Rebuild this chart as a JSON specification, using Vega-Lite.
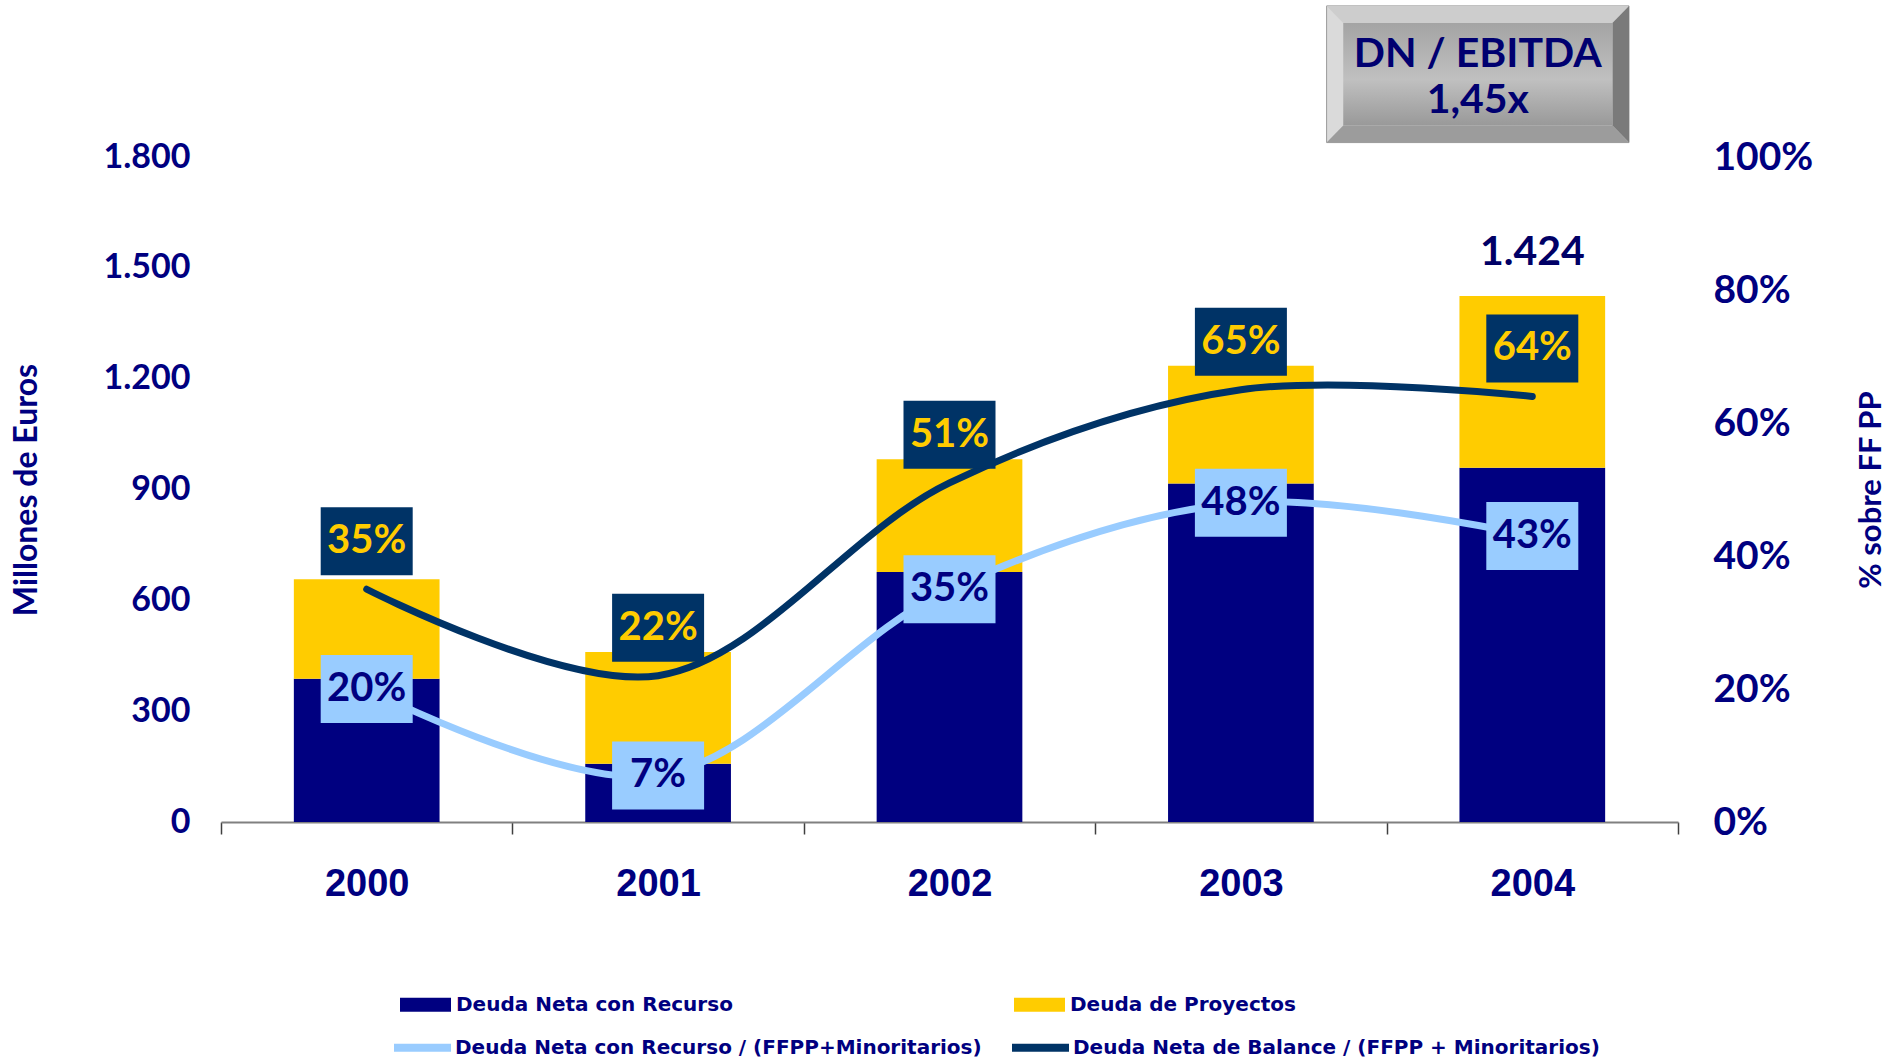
{
  "$schema": "https://vega.github.io/schema/vega-lite/v6.json",
  "width": 1457,
  "height": 665,
  "autosize": {"type": "none"},
  "padding": {"left": 221, "top": 157, "right": 223, "bottom": 242},
  "background": "white",
  "config": {
    "view": {"stroke": null},
    "locale": {"number": {"decimal": ",", "thousands": ".", "grouping": [3], "currency": ["", " €"]}}
  },
  "datasets": {
    "barras": [
      {"year": "2000", "serie": "Deuda Neta con Recurso", "valor": 388},
      {"year": "2001", "serie": "Deuda Neta con Recurso", "valor": 158},
      {"year": "2002", "serie": "Deuda Neta con Recurso", "valor": 677},
      {"year": "2003", "serie": "Deuda Neta con Recurso", "valor": 916},
      {"year": "2004", "serie": "Deuda Neta con Recurso", "valor": 959},
      {"year": "2000", "serie": "Deuda de Proyectos", "valor": 269},
      {"year": "2001", "serie": "Deuda de Proyectos", "valor": 302},
      {"year": "2002", "serie": "Deuda de Proyectos", "valor": 305},
      {"year": "2003", "serie": "Deuda de Proyectos", "valor": 319},
      {"year": "2004", "serie": "Deuda de Proyectos", "valor": 465}
    ],
    "ratios": [
      {"year": "2000", "serie": "Deuda Neta con Recurso / (FFPP+Minoritarios)", "pct": 0.20},
      {"year": "2001", "serie": "Deuda Neta con Recurso / (FFPP+Minoritarios)", "pct": 0.07},
      {"year": "2002", "serie": "Deuda Neta con Recurso / (FFPP+Minoritarios)", "pct": 0.35},
      {"year": "2003", "serie": "Deuda Neta con Recurso / (FFPP+Minoritarios)", "pct": 0.48},
      {"year": "2004", "serie": "Deuda Neta con Recurso / (FFPP+Minoritarios)", "pct": 0.43},
      {"year": "2000", "serie": "Deuda Neta de Balance / (FFPP + Minoritarios)", "pct": 0.35},
      {"year": "2001", "serie": "Deuda Neta de Balance / (FFPP + Minoritarios)", "pct": 0.22},
      {"year": "2002", "serie": "Deuda Neta de Balance / (FFPP + Minoritarios)", "pct": 0.51},
      {"year": "2003", "serie": "Deuda Neta de Balance / (FFPP + Minoritarios)", "pct": 0.65},
      {"year": "2004", "serie": "Deuda Neta de Balance / (FFPP + Minoritarios)", "pct": 0.64}
    ],
    "anotacion": [
      {"texto": "DN / EBITDA 1,45x"}
    ]
  },
  "layer": [
    {
      "data": {"name": "barras"},
      "mark": {"type": "bar", "width": {"band": 0.5}},
      "encoding": {
        "x": {
          "field": "year", "type": "ordinal",
          "scale": {"domain": ["2000", "2001", "2002", "2003", "2004"], "paddingInner": 0, "paddingOuter": 0},
          "axis": {
            "title": null, "labelAngle": 0, "tickBand": "extent", "tickSize": 12,
            "tickColor": "#404040", "tickWidth": 1.5, "domainColor": "#808080", "domainWidth": 2,
            "labelFont": "Liberation Sans", "labelFontWeight": "bold", "labelFontSize": 38,
            "labelColor": "#000080", "labelPadding": 31
          }
        },
        "y": {
          "field": "valor", "type": "quantitative", "stack": "zero",
          "scale": {"domain": [0, 1800], "nice": false},
          "axis": {
            "orient": "left", "values": [0, 300, 600, 900, 1200, 1500, 1800], "format": ",.0f",
            "domain": false, "ticks": false, "tickSize": 0, "grid": false,
            "labelFont": "Lato", "labelFontWeight": "bold", "labelFontSize": 34,
            "labelColor": "#000080", "labelPadding": 31,
            "title": "Millones de Euros", "titleFont": "Lato", "titleFontWeight": "bold",
            "titleFontSize": 32, "titleColor": "#000080", "titlePadding": 60
          }
        },
        "order": {"field": "serie", "sort": "ascending"},
        "color": {
          "field": "serie", "type": "nominal",
          "scale": {"domain": ["Deuda Neta con Recurso", "Deuda de Proyectos"], "range": ["#000080", "#FFCC00"]},
          "legend": {
            "title": null, "orient": "none", "legendX": 179, "legendY": 822,
            "direction": "horizontal", "columns": 2, "columnPadding": 281, "labelLimit": 0,
            "symbolType": "M-1,-0.275L1,-0.275L1,0.275L-1,0.275Z", "symbolSize": 2601,
            "symbolStrokeWidth": 0, "labelFont": "DejaVu Sans", "labelFontWeight": "bold",
            "labelFontSize": 20, "labelColor": "#000080", "labelOffset": 5, "padding": 0
          }
        }
      }
    },
    {
      "data": {"name": "barras"},
      "transform": [
        {"aggregate": [{"op": "sum", "field": "valor", "as": "total"}], "groupby": ["year"]},
        {"filter": {"field": "year", "equal": "2004"}}
      ],
      "mark": {"type": "text", "font": "Lato", "fontWeight": "bold", "fontSize": 41, "color": "#000066", "baseline": "alphabetic", "dy": -31},
      "encoding": {
        "x": {"field": "year", "type": "ordinal", "scale": {"domain": ["2000", "2001", "2002", "2003", "2004"]}, "axis": null},
        "y": {"field": "total", "type": "quantitative", "scale": {"domain": [0, 1800], "nice": false}, "axis": null},
        "text": {"field": "total", "type": "quantitative", "format": ",.0f"}
      }
    },
    {
      "data": {"name": "ratios"},
      "mark": {"type": "line", "interpolate": "catmull-rom", "strokeWidth": 7, "strokeCap": "round"},
      "encoding": {
        "x": {"field": "year", "type": "ordinal", "scale": {"domain": ["2000", "2001", "2002", "2003", "2004"]}, "axis": null},
        "y": {
          "field": "pct", "type": "quantitative",
          "scale": {"domain": [0, 1], "nice": false},
          "axis": {
            "orient": "right", "values": [0, 0.2, 0.4, 0.6, 0.8, 1], "format": ".0%",
            "domain": false, "ticks": false, "tickSize": 0, "grid": false,
            "labelFont": "Lato", "labelFontWeight": "bold", "labelFontSize": 39,
            "labelColor": "#000080", "labelPadding": 35,
            "title": "% sobre FF PP", "titleFont": "Lato", "titleFontWeight": "bold",
            "titleFontSize": 31, "titleColor": "#000080", "titleAngle": 270,
            "titleBaseline": "top", "titlePadding": 44
          }
        },
        "stroke": {
          "field": "serie", "type": "nominal",
          "scale": {"domain": ["Deuda Neta con Recurso / (FFPP+Minoritarios)", "Deuda Neta de Balance / (FFPP + Minoritarios)"], "range": ["#99CCFF", "#003366"]},
          "legend": {
            "title": null, "orient": "none", "legendX": 169, "legendY": 858,
            "direction": "horizontal", "columns": 2, "columnPadding": 14, "labelLimit": 0,
            "symbolType": "stroke", "symbolSize": 3249, "symbolStrokeWidth": 8,
            "labelFont": "DejaVu Sans", "labelFontWeight": "bold",
            "labelFontSize": 20, "labelColor": "#000080", "labelOffset": 0, "padding": 0
          }
        }
      }
    },
    {
      "data": {"name": "ratios"},
      "transform": [{"filter": {"field": "serie", "equal": "Deuda Neta de Balance / (FFPP + Minoritarios)"}}],
      "encoding": {
        "x": {"field": "year", "type": "ordinal", "scale": {"domain": ["2000", "2001", "2002", "2003", "2004"]}, "axis": null},
        "y": {"field": "pct", "type": "quantitative", "scale": {"domain": [0, 1], "nice": false}, "axis": null}
      },
      "layer": [
        {"mark": {"type": "point", "shape": "M-1,-0.739L1,-0.739L1,0.739L-1,0.739Z", "size": 8464, "filled": true, "fill": "#003366", "opacity": 1, "strokeWidth": 0, "yOffset": -48}},
        {"mark": {"type": "text", "font": "Lato", "fontWeight": "bold", "fontSize": 40, "color": "#FFCC00", "baseline": "middle", "yOffset": -48},
         "encoding": {"text": {"field": "pct", "type": "quantitative", "format": ".0%"}}}
      ]
    },
    {
      "data": {"name": "ratios"},
      "transform": [{"filter": {"field": "serie", "equal": "Deuda Neta con Recurso / (FFPP+Minoritarios)"}}],
      "encoding": {
        "x": {"field": "year", "type": "ordinal", "scale": {"domain": ["2000", "2001", "2002", "2003", "2004"]}, "axis": null},
        "y": {"field": "pct", "type": "quantitative", "scale": {"domain": [0, 1], "nice": false}, "axis": null}
      },
      "layer": [
        {"mark": {"type": "point", "shape": "M-1,-0.739L1,-0.739L1,0.739L-1,0.739Z", "size": 8464, "filled": true, "fill": "#99CCFF", "opacity": 1, "strokeWidth": 0}},
        {"mark": {"type": "text", "font": "Lato", "fontWeight": "bold", "fontSize": 40, "color": "#000080", "baseline": "middle"},
         "encoding": {"text": {"field": "pct", "type": "quantitative", "format": ".0%"}}}
      ]
    },
    {
      "data": {"name": "anotacion"},
      "encoding": {
        "x": {"datum": 4.313, "type": "quantitative", "scale": {"domain": [0, 5], "nice": false}, "axis": null},
        "y": {"datum": 2024, "type": "quantitative", "scale": {"domain": [0, 1800], "nice": false}, "axis": null}
      },
      "layer": [
        {"mark": {"type": "point", "shape": "M-1,-0.452L1,-0.452L1,0.452L-1,0.452Z", "size": 91446, "filled": true, "fill": "#DADADA", "opacity": 1, "stroke": "#9A9A9A", "strokeWidth": 1}},
        {"mark": {"type": "point", "shape": "M-1,-0.452L1,-0.452L0.89,-0.339L-0.89,-0.339Z", "size": 91446, "filled": true, "fill": "#CDCDCD", "opacity": 1, "strokeWidth": 0}},
        {"mark": {"type": "point", "shape": "M1,-0.452L1,0.452L0.89,0.339L0.89,-0.339Z", "size": 91446, "filled": true, "fill": "#7A7A7A", "opacity": 1, "strokeWidth": 0}},
        {"mark": {"type": "point", "shape": "M-1,0.452L1,0.452L0.89,0.339L-0.89,0.339Z", "size": 91446, "filled": true, "fill": "#9C9C9C", "opacity": 1, "strokeWidth": 0}},
        {"mark": {"type": "point", "shape": "M-0.89,-0.339L0.89,-0.339L0.89,0.339L-0.89,0.339Z", "size": 91446, "filled": true, "opacity": 1, "strokeWidth": 0,
          "fill": {"gradient": "linear", "x1": 0, "y1": 0, "x2": 0, "y2": 1, "stops": [{"offset": 0, "color": "#A4A4A4"}, {"offset": 0.55, "color": "#C0C0C0"}, {"offset": 1, "color": "#999999"}]}}},
        {"mark": {"type": "text", "text": ["DN / EBITDA", "1,45x"], "lineHeight": 46, "font": "Lato", "fontWeight": "bold", "fontSize": 41, "color": "#000070", "baseline": "middle", "align": "center", "dy": -19}}
      ]
    }
  ],
  "resolve": {"scale": {"x": "independent", "y": "independent"}}
}
